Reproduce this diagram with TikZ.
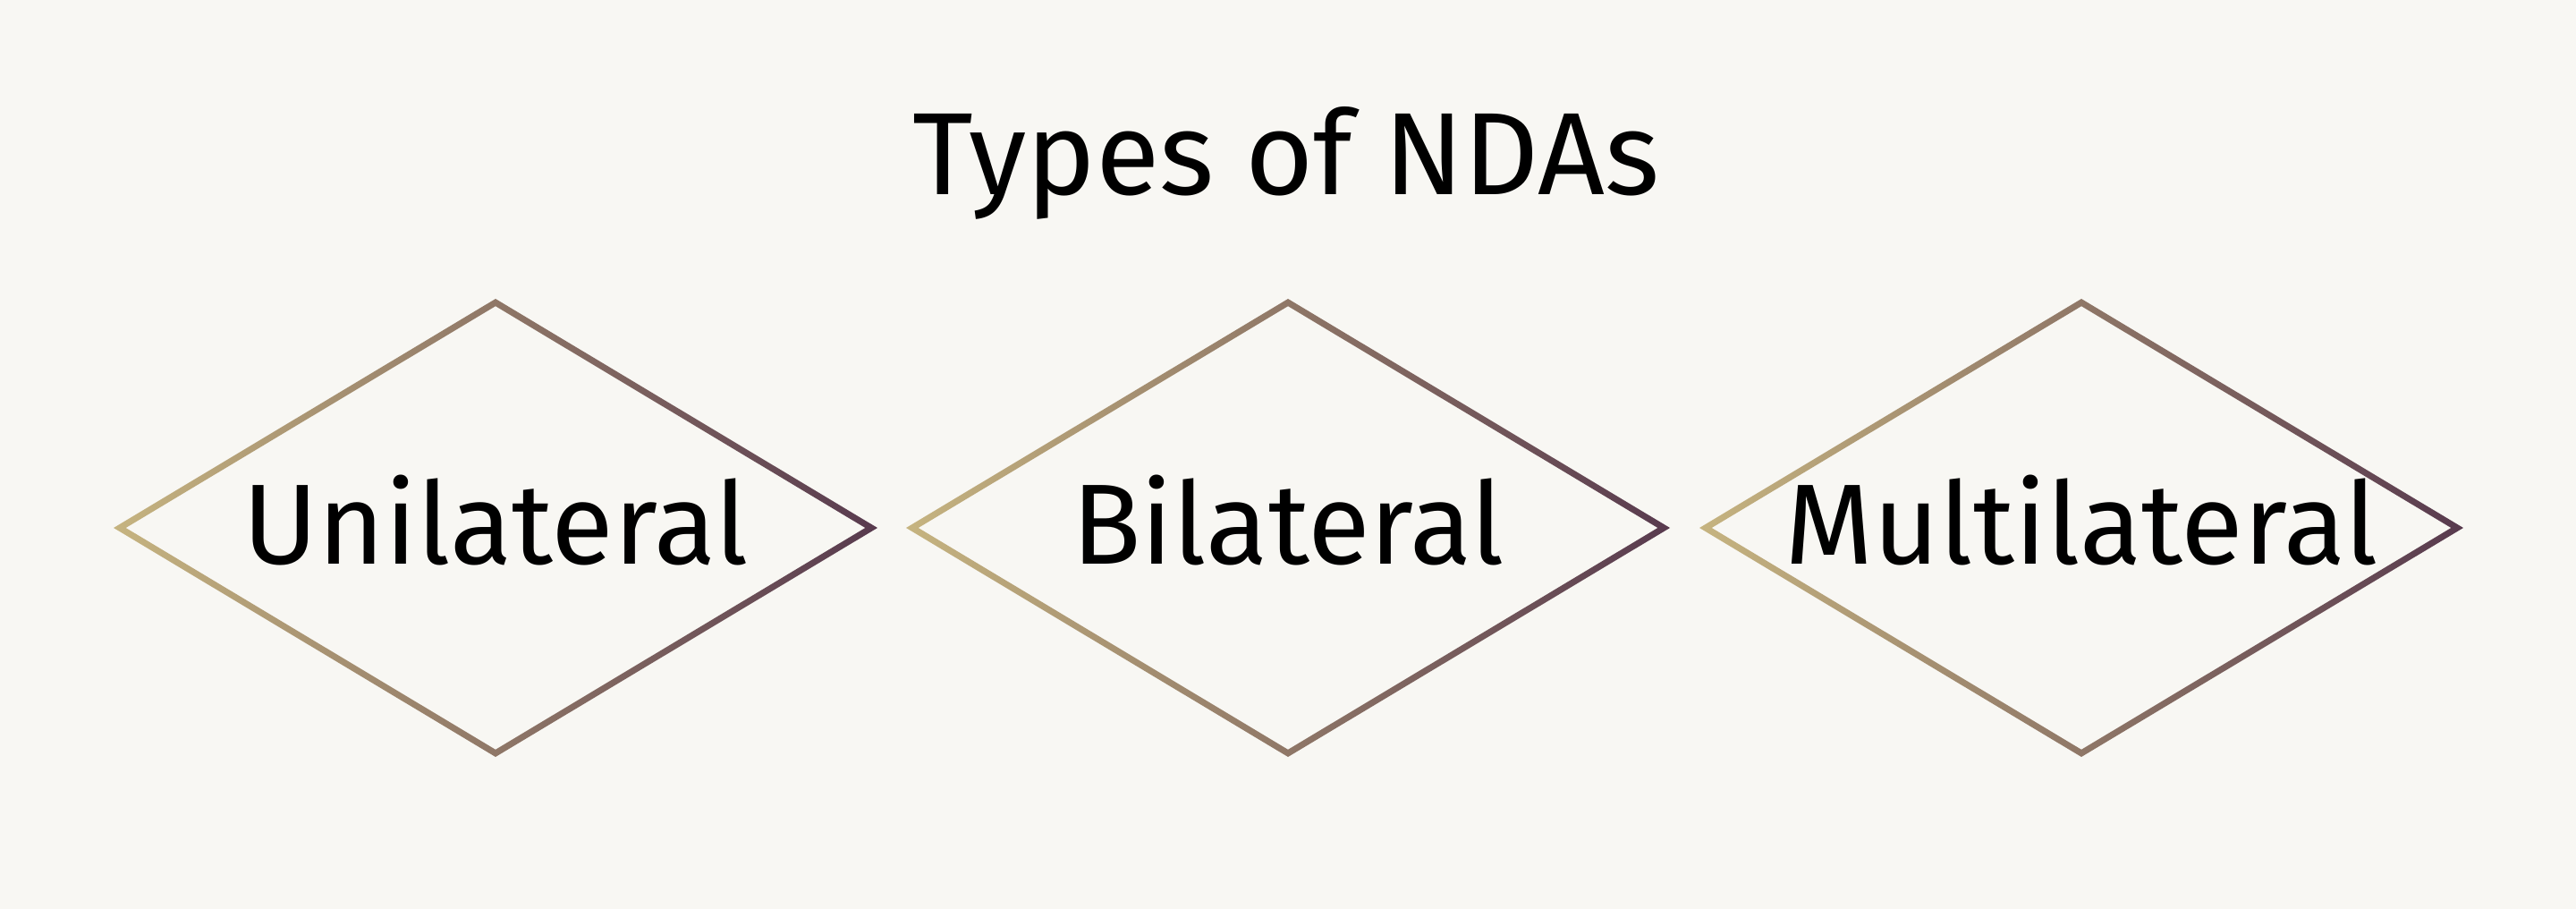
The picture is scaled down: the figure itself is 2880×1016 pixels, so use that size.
\documentclass[tikz,border=0pt]{standalone}
\usepackage{fontspec}
\setmainfont{Fira Sans}
\usepackage{xcolor}
\usetikzlibrary{calc}

\definecolor{paper}{HTML}{F8F7F3}
\definecolor{ndatan}{HTML}{C6B480}
\definecolor{ndaplum}{HTML}{583A4E}

% gradient outline of a diamond drawn on a node's side midpoints
\newcommand{\ndaoutline}[1]{%
    \shade[left color=ndatan, right color=ndaplum, even odd rule]
        (#1.west) -- (#1.north) -- (#1.east) -- (#1.south) -- cycle
        ($(#1.center)!0.968!(#1.west)$) -- ($(#1.center)!0.968!(#1.north)$)
        -- ($(#1.center)!0.968!(#1.east)$) -- ($(#1.center)!0.968!(#1.south)$) -- cycle;
}

\begin{document}
\begin{tikzpicture}[x=0.25pt, y=-0.25pt,
        ndatype/.style={
            rectangle, outer sep=0pt, inner sep=0pt,
            minimum width=213.5pt, minimum height=128pt,
            text height=20pt, text depth=0pt,
            font=\fontsize{31.9}{36}\selectfont,
          },
        heading/.style={
            anchor=base,
            font=\fontsize{32.7}{38}\selectfont,
          }
        ]
        \fill[paper] (0,0) rectangle (2880,1016);
        \useasboundingbox (0,0) rectangle (2880,1016);

        \node[heading] (title) at (1438, 218) {Types of NDAs};

        \node[ndatype] (uni) at (554, 590) {Unilateral};
        \node[ndatype] (bi) at (1440, 590) {Bilateral};
        \node[ndatype] (multi) at (2327, 590) {Multilateral};

        \ndaoutline{uni}
        \ndaoutline{bi}
        \ndaoutline{multi}
    \end{tikzpicture}
\end{document}
